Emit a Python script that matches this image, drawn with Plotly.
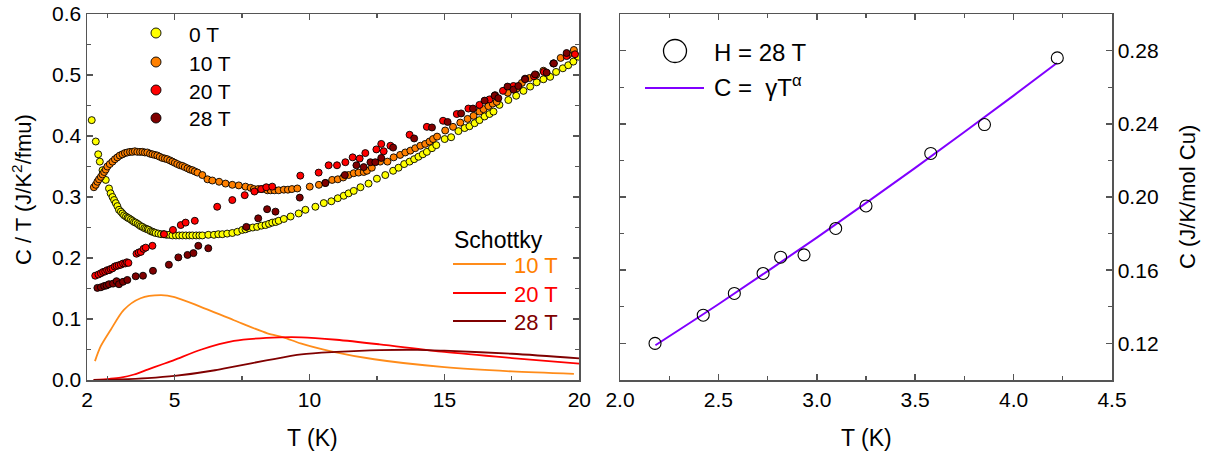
import plotly.graph_objects as go

# ---------------- Left panel data: C/T vs T ----------------
T_0T = [1.93, 2.08, 2.17, 2.23, 2.33, 2.45, 2.57, 2.63, 2.70, 2.76, 2.82, 2.88, 2.94, 3.01, 3.07, 3.13,
        3.20, 3.26, 3.31, 3.38, 3.44, 3.50, 3.56, 3.63, 3.69, 3.75, 3.81, 3.88, 3.94, 4.00, 4.05, 4.12,
        4.18, 4.24, 4.30, 4.40, 4.50, 4.60, 4.70, 4.80, 4.92, 5.05, 5.17, 5.29, 5.42, 5.55, 5.66, 5.80,
        5.92, 6.03, 6.25, 6.46, 6.62, 6.77, 6.95, 7.14, 7.33, 7.51, 7.63, 7.75, 7.90, 8.06, 8.22, 8.37,
        8.50, 8.62, 8.75, 8.86, 9.05, 9.30, 9.60, 9.85, 10.22, 10.53, 10.81, 11.05, 11.27, 11.45, 11.64,
        11.89, 12.19, 12.50, 12.81, 13.10, 13.30, 13.51, 13.71, 13.88, 14.04, 14.20, 14.35, 14.54, 14.70,
        15.01, 15.25, 15.52, 15.75, 15.93, 16.12, 16.30, 16.49, 16.67, 16.82, 17.04, 17.37, 17.66, 17.93,
        18.18, 18.42, 18.67, 18.92, 19.14, 19.39, 19.59, 19.78, 19.96]
CT_0T = [0.426, 0.391, 0.370, 0.358, 0.344, 0.328, 0.314, 0.306, 0.300, 0.295, 0.290, 0.285, 0.279, 0.276,
         0.273, 0.270, 0.268, 0.266, 0.265, 0.263, 0.261, 0.259, 0.258, 0.256, 0.254, 0.252, 0.251, 0.249,
         0.248, 0.247, 0.246, 0.244, 0.243, 0.242, 0.241, 0.240, 0.239, 0.239, 0.238, 0.238, 0.237, 0.237,
         0.237, 0.237, 0.237, 0.237, 0.237, 0.237, 0.237, 0.237, 0.238, 0.238, 0.239, 0.239, 0.240, 0.241,
         0.243, 0.246, 0.247, 0.249, 0.250, 0.251, 0.253, 0.254, 0.256, 0.258, 0.259, 0.261, 0.264, 0.268,
         0.273, 0.279, 0.284, 0.290, 0.293, 0.298, 0.302, 0.306, 0.310, 0.316, 0.322, 0.330, 0.336, 0.343,
         0.348, 0.354, 0.358, 0.362, 0.366, 0.370, 0.374, 0.380, 0.385, 0.395, 0.398, 0.408, 0.413, 0.416,
         0.421, 0.426, 0.432, 0.436, 0.440, 0.451, 0.459, 0.466, 0.474, 0.481, 0.488, 0.493, 0.497, 0.505,
         0.511, 0.516, 0.522, 0.530]

T_10T = [2.01, 2.08, 2.14, 2.20, 2.27, 2.33, 2.39, 2.45, 2.51, 2.60, 2.70, 2.79, 2.88, 2.97, 3.07, 3.16,
         3.25, 3.35, 3.44, 3.53, 3.62, 3.72, 3.81, 3.90, 3.99, 4.09, 4.18, 4.27, 4.36, 4.45, 4.55, 4.64,
         4.73, 4.83, 4.92, 5.01, 5.10, 5.20, 5.29, 5.38, 5.48, 5.57, 5.66, 5.75, 5.85, 6.03, 6.22, 6.40,
         6.65, 6.89, 7.14, 7.38, 7.63, 7.82, 7.94, 8.10, 8.25, 8.44, 8.56, 8.70, 8.86, 9.05, 9.20, 9.35,
         9.55, 10.01, 10.35, 10.59, 10.84, 11.05, 11.25, 11.45, 11.64, 11.82, 12.01, 12.13, 12.31, 12.62,
         12.89, 13.12, 13.36, 13.55, 13.74, 13.92, 14.11, 14.29, 14.45, 14.58, 14.73, 15.03, 15.32, 15.59,
         15.86, 16.08, 16.30, 16.45, 16.63, 16.79, 16.94, 17.35, 17.68, 17.87, 18.15, 18.40, 18.67, 19.04,
         19.31, 19.59, 19.80]
CT_10T = [0.316, 0.320, 0.325, 0.329, 0.333, 0.337, 0.341, 0.345, 0.350, 0.354, 0.358, 0.362, 0.365, 0.368,
          0.370, 0.372, 0.373, 0.374, 0.374, 0.375, 0.374, 0.374, 0.374, 0.373, 0.373, 0.371, 0.370, 0.369,
          0.368, 0.366, 0.364, 0.363, 0.362, 0.360, 0.358, 0.356, 0.354, 0.352, 0.351, 0.349, 0.347, 0.345,
          0.344, 0.342, 0.340, 0.336, 0.329, 0.327, 0.325, 0.322, 0.320, 0.319, 0.317, 0.315, 0.313, 0.313,
          0.313, 0.311, 0.311, 0.311, 0.311, 0.312, 0.312, 0.313, 0.314, 0.317, 0.320, 0.323, 0.328, 0.329,
          0.332, 0.336, 0.339, 0.340, 0.341, 0.343, 0.348, 0.358, 0.358, 0.365, 0.369, 0.373, 0.376, 0.380,
          0.384, 0.387, 0.391, 0.395, 0.399, 0.409, 0.415, 0.422, 0.428, 0.433, 0.440, 0.444, 0.449, 0.453,
          0.456, 0.471, 0.478, 0.487, 0.495, 0.500, 0.507, 0.519, 0.528, 0.533, 0.541]

T_20T = [2.06, 2.18, 2.27, 2.35, 2.43, 2.50, 2.57, 2.63, 2.70, 2.78, 2.85, 2.93, 3.01, 3.09, 3.17, 3.23,
         3.29, 3.59, 3.67, 3.75, 3.85, 3.93, 4.18, 4.61, 4.94, 5.23, 5.41, 5.75, 6.58, 7.14, 7.60, 7.96,
         8.21, 8.40, 8.62, 9.66, 10.34, 10.71, 11.02, 11.33, 11.60, 11.86, 12.07, 12.48, 12.66, 12.75,
         13.00, 13.71, 14.35, 14.95, 15.46, 15.89, 16.30, 16.67, 16.88, 17.17, 17.56, 17.99, 18.32, 18.69,
         19.04, 19.53, 19.84]
CT_20T = [0.171, 0.173, 0.175, 0.177, 0.178, 0.180, 0.180, 0.182, 0.183, 0.186, 0.187, 0.188, 0.189, 0.191,
          0.191, 0.193, 0.192, 0.207, 0.209, 0.210, 0.215, 0.217, 0.220, 0.239, 0.246, 0.254, 0.258, 0.261,
          0.284, 0.295, 0.303, 0.309, 0.313, 0.316, 0.317, 0.335, 0.340, 0.352, 0.352, 0.357, 0.365, 0.363,
          0.372, 0.378, 0.387, 0.375, 0.384, 0.402, 0.415, 0.425, 0.436, 0.445, 0.451, 0.460, 0.467, 0.474,
          0.482, 0.494, 0.498, 0.505, 0.519, 0.531, 0.534]

T_28T = [2.14, 2.27, 2.39, 2.48, 2.57, 2.72, 2.85, 2.94, 3.09, 3.25, 3.56, 3.83, 4.20, 4.79, 5.14, 5.48,
         5.70, 5.88, 6.25, 7.66, 8.10, 8.43, 8.74, 9.64, 10.59, 11.31, 11.74, 12.01, 12.26, 12.44, 12.66,
         13.10, 13.88, 14.54, 15.12, 15.62, 16.06, 16.49, 16.86, 17.00, 17.34, 17.56, 17.74, 17.99, 18.36,
         18.79, 19.06, 19.53]
CT_28T = [0.151, 0.152, 0.154, 0.155, 0.157, 0.158, 0.162, 0.157, 0.161, 0.164, 0.170, 0.171, 0.179, 0.189,
          0.201, 0.205, 0.208, 0.220, 0.216, 0.251, 0.265, 0.280, 0.276, 0.299, 0.323, 0.336, 0.352, 0.349,
          0.357, 0.357, 0.364, 0.381, 0.396, 0.414, 0.423, 0.437, 0.445, 0.458, 0.466, 0.462, 0.481, 0.476,
          0.482, 0.493, 0.501, 0.504, 0.519, 0.536]

# Schottky curves
T_S10 = [2.05, 2.26, 2.63, 3.12, 3.74, 4.49, 5.0, 5.97, 7.20, 8.44, 9.04, 9.67, 10.8, 12.4, 15.0, 17.5, 19.8]
C_S10 = [0.031, 0.055, 0.082, 0.115, 0.134, 0.139, 0.136, 0.120, 0.098, 0.0765, 0.070, 0.060, 0.047, 0.034,
         0.021, 0.014, 0.010]
T_S20 = [2.0, 2.6, 3.0, 3.5, 4.0, 4.5, 5.0, 6.0, 7.2, 8.4, 9.7, 11.0, 12.6, 15.0, 17.5, 20.0]
C_S20 = [0.0, 0.002, 0.004, 0.009, 0.017, 0.025, 0.033, 0.050, 0.064, 0.069, 0.070, 0.066, 0.0585, 0.046,
         0.036, 0.027]
T_S28 = [2.0, 3.0, 4.0, 5.0, 6.5, 7.2, 8.4, 9.7, 11.0, 12.6, 14.0, 15.0, 17.5, 20.0]
C_S28 = [0.0, 0.001, 0.003, 0.0066, 0.016, 0.022, 0.032, 0.042, 0.046, 0.049, 0.0495, 0.048, 0.043, 0.0355]

# ---------------- Right panel data: C vs T at 28 T ----------------
T_H28 = [2.178, 2.423, 2.581, 2.727, 2.816, 2.935, 3.096, 3.250, 3.579, 3.852, 4.222]
C_H28 = [0.120, 0.1354, 0.1473, 0.1582, 0.1671, 0.1684, 0.1828, 0.1951, 0.2238, 0.2396, 0.2760]
T_fit = [2.18, 2.5, 3.0, 3.5, 4.0, 4.22]
C_fit = [0.119, 0.1414, 0.1778, 0.2159, 0.2554, 0.2732]

# tick labels
left_x_tickvals = [1.755, 5, 10, 15, 20]
left_x_ticktext = ["2", "5", "10", "15", "20"]
left_y_tickvals = [0.0, 0.1, 0.2, 0.3, 0.4, 0.5, 0.6]
right_x_tickvals = [2.0, 2.5, 3.0, 3.5, 4.0, 4.5]
right_y_tickvals = [0.12, 0.16, 0.20, 0.24, 0.28]

# ---------------- styling ----------------
W, H = 1205, 456
FONT = "Liberation Sans, Arial, sans-serif"
AX = "#555555"
COL_0, COL_10, COL_20, COL_28 = "#FFFF00", "#FF8000", "#FF0000", "#800000"
PURPLE = "#8000FF"


def px(x):
    return x / W


def py(y):
    return 1 - y / H


fig = go.Figure()

for T, C, col in [(T_0T, CT_0T, COL_0), (T_10T, CT_10T, COL_10), (T_20T, CT_20T, COL_20), (T_28T, CT_28T, COL_28)]:
    fig.add_trace(go.Scatter(x=T, y=C, mode="markers", xaxis="x", yaxis="y", showlegend=False,
                             hoverinfo="skip",
                             marker=dict(size=7, color=col, line=dict(color="black", width=0.9))))

for T, C, col in [(T_S10, C_S10, "#FF8C1A"), (T_S20, C_S20, COL_20), (T_S28, C_S28, COL_28)]:
    fig.add_trace(go.Scatter(x=T, y=C, mode="lines", xaxis="x", yaxis="y", showlegend=False,
                             hoverinfo="skip",
                             line=dict(color=col, width=1.8, shape="spline", smoothing=0.8)))

fig.add_trace(go.Scatter(x=T_fit, y=C_fit, mode="lines", xaxis="x2", yaxis="y2", showlegend=False,
                         hoverinfo="skip",
                         line=dict(color=PURPLE, width=2, shape="spline", smoothing=0.6)))
fig.add_trace(go.Scatter(x=T_H28, y=C_H28, mode="markers", xaxis="x2", yaxis="y2", showlegend=False,
                         hoverinfo="skip",
                         marker=dict(size=12, color="rgba(0,0,0,0)", line=dict(color="black", width=1.1))))

axis_common = dict(showline=True, linecolor=AX, linewidth=1.5, mirror="ticks", ticks="inside",
                   ticklen=6, tickwidth=1.5, tickcolor=AX, showgrid=False, zeroline=False,
                   automargin=False,
                   tickfont=dict(family=FONT, size=21, color="black"))

fig.update_layout(
    width=W, height=H, autosize=False,
    margin=dict(l=0, r=0, t=0, b=0, pad=0, autoexpand=False),
    paper_bgcolor="white", plot_bgcolor="white",
    font=dict(family=FONT, color="black"),
    hovermode=False,
    xaxis=dict(domain=[px(87), px(579.3)], anchor="y", range=[1.755, 20],
               tickmode="array", tickvals=left_x_tickvals, ticktext=left_x_ticktext,
               minor=dict(tickmode="array", tickvals=[2.5, 7.5, 12.5, 17.5], ticks="inside",
                          ticklen=4, tickwidth=1.2, tickcolor=AX),
               **axis_common),
    yaxis=dict(domain=[py(380), py(14)], anchor="x", range=[0, 0.6],
               tickmode="array", tickvals=left_y_tickvals, tickformat=".1f",
               minor=dict(dtick=0.05, tick0=0, ticks="inside", ticklen=4, tickwidth=1.2, tickcolor=AX),
               **axis_common),
    xaxis2=dict(domain=[px(620), px(1112)], anchor="y2", range=[2.0, 4.5],
                tickmode="array", tickvals=right_x_tickvals, tickformat=".1f",
                minor=dict(dtick=0.25, tick0=0, ticks="inside", ticklen=4, tickwidth=1.2, tickcolor=AX),
                **axis_common),
    yaxis2=dict(domain=[py(380), py(14)], anchor="x2", side="right", range=[0.10, 0.30],
                tickmode="array", tickvals=right_y_tickvals, tickformat=".2f",
                minor=dict(tickmode="array", tickvals=[0.14, 0.18, 0.22, 0.26], ticks="inside",
                           ticklen=4, tickwidth=1.2, tickcolor=AX),
                **axis_common),
)

shapes = []
annotations = []

# left legend (data)
leg_rows = [("0 T", COL_0, 33), ("10 T", COL_10, 62), ("20 T", COL_20, 90), ("28 T", COL_28, 118)]
for label, col, yy in leg_rows:
    r = 5
    shapes.append(dict(type="circle", xref="paper", yref="paper", x0=px(156 - r), x1=px(156 + r),
                       y0=py(yy + r), y1=py(yy - r), fillcolor=col, line=dict(color="black", width=0.9)))
    annotations.append(dict(text=label, x=px(187), y=py(yy + 1), xref="paper", yref="paper",
                            xanchor="left", yanchor="middle", showarrow=False,
                            font=dict(family=FONT, size=21, color="black")))

# Schottky legend
annotations.append(dict(text="Schottky", x=px(452), y=py(240), xref="paper", yref="paper",
                        xanchor="left", yanchor="middle", showarrow=False,
                        font=dict(family=FONT, size=23, color="black")))
for label, col, tcol, yy in [("10 T", "#FF8C1A", COL_10, 264), ("20 T", COL_20, COL_20, 293),
                             ("28 T", COL_28, COL_28, 321)]:
    shapes.append(dict(type="line", xref="paper", yref="paper", x0=px(453), x1=px(506),
                       y0=py(yy), y1=py(yy), line=dict(color=col, width=2)))
    annotations.append(dict(text=label, x=px(512), y=py(yy + 1), xref="paper", yref="paper",
                            xanchor="left", yanchor="middle", showarrow=False,
                            font=dict(family=FONT, size=22, color=tcol)))

# right legend
shapes.append(dict(type="circle", xref="paper", yref="paper", x0=px(675 - 11.5), x1=px(675 + 11.5),
                   y0=py(51 + 11.5), y1=py(51 - 11.5), line=dict(color="black", width=1.3)))
annotations.append(dict(text="H = 28 T", x=px(712), y=py(52), xref="paper", yref="paper",
                        xanchor="left", yanchor="middle", showarrow=False,
                        font=dict(family=FONT, size=24, color="black")))
shapes.append(dict(type="line", xref="paper", yref="paper", x0=px(645), x1=px(704),
                   y0=py(88), y1=py(88), line=dict(color=PURPLE, width=2)))
annotations.append(dict(text="C =  γT<sup>α</sup>", x=px(712), y=py(86), xref="paper", yref="paper",
                        xanchor="left", yanchor="middle", showarrow=False,
                        font=dict(family=FONT, size=24, color="black")))

# axis titles
annotations.append(dict(text="T (K)", x=px(312), y=py(438), xref="paper", yref="paper",
                        xanchor="center", yanchor="middle", showarrow=False,
                        font=dict(family=FONT, size=23, color="black")))
annotations.append(dict(text="T (K)", x=px(866), y=py(438), xref="paper", yref="paper",
                        xanchor="center", yanchor="middle", showarrow=False,
                        font=dict(family=FONT, size=23, color="black")))
annotations.append(dict(text="C / T (J/K<sup>2</sup>/fmu)", x=px(22), y=py(190), xref="paper", yref="paper",
                        xanchor="center", yanchor="middle", showarrow=False, textangle=-90,
                        font=dict(family=FONT, size=22, color="black")))
annotations.append(dict(text="C (J/K/mol Cu)", x=px(1187), y=py(197), xref="paper", yref="paper",
                        xanchor="center", yanchor="middle", showarrow=False, textangle=-90,
                        font=dict(family=FONT, size=22, color="black")))

fig.update_layout(shapes=shapes, annotations=annotations)

fig.write_html("out.html", config={"displayModeBar": False, "staticPlot": True},
               post_script="document.body.style.margin='0';document.body.style.overflow='hidden';")
